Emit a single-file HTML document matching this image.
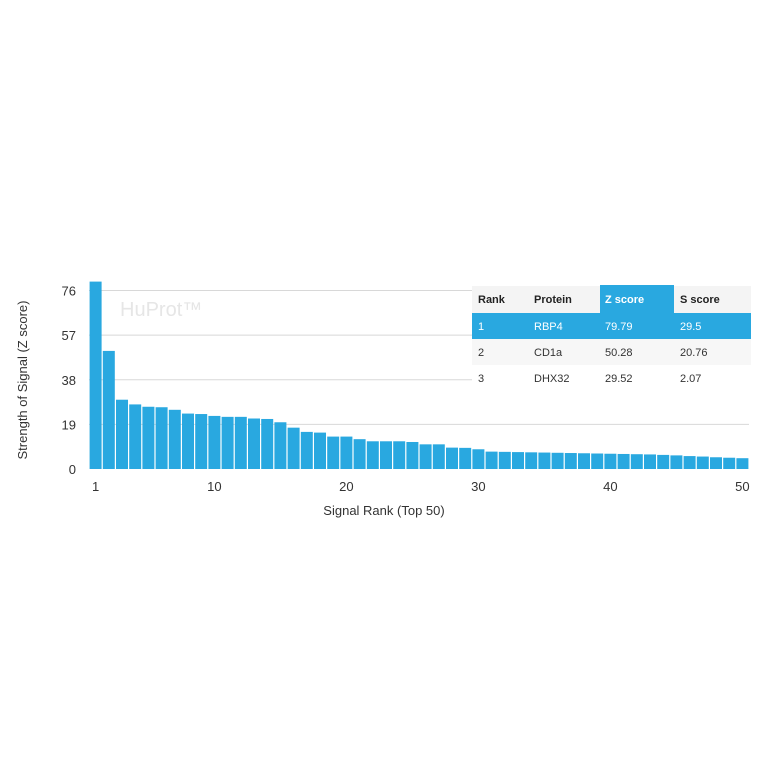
<!DOCTYPE html>
<html><head><meta charset="utf-8"><style>
body{margin:0;background:#fff;width:764px;height:764px;overflow:hidden;font-family:"Liberation Sans",Arial,sans-serif}
</style></head><body>
<svg width="764" height="764" xmlns="http://www.w3.org/2000/svg">
<g id="grid"></g>
<text x="120" y="316" font-size="20" fill="#e6e6e6">HuProt™</text>
<g id="bars"></g>
<g id="yt" font-size="13" fill="#333" text-anchor="end"></g>
<g id="xt" font-size="13" fill="#333" text-anchor="middle"></g>
<text transform="translate(27,380) rotate(-90)" text-anchor="middle" font-size="13" fill="#333">Strength of Signal (Z score)</text>
<text x="384" y="515" text-anchor="middle" font-size="13" fill="#333">Signal Rank (Top 50)</text>
<g font-size="11">
<rect x="472" y="286" width="279" height="27" fill="#f4f4f4"/>
<rect x="600" y="285" width="74" height="28" fill="#29a8e0"/>
<rect x="472" y="313" width="279" height="26" fill="#29a8e0"/>
<rect x="472" y="339" width="279" height="26" fill="#f7f7f7"/>
<rect x="472" y="365" width="279" height="26" fill="#fff"/>
<g font-weight="bold" fill="#222"><text x="478" y="303">Rank</text><text x="534" y="303">Protein</text><text x="605" y="303" fill="#fff">Z score</text><text x="680" y="303">S score</text></g>
<g fill="#fff"><text x="478" y="330">1</text><text x="534" y="330">RBP4</text><text x="605" y="330">79.79</text><text x="680" y="330">29.5</text></g>
<g fill="#333"><text x="478" y="356">2</text><text x="534" y="356">CD1a</text><text x="605" y="356">50.28</text><text x="680" y="356">20.76</text></g>
<g fill="#333"><text x="478" y="382">3</text><text x="534" y="382">DHX32</text><text x="605" y="382">29.52</text><text x="680" y="382">2.07</text></g>
</g>
</svg>
<script>
const values=[79.79,50.28,29.5,27.5,26.5,26.3,25.2,23.6,23.4,22.6,22.2,22.2,21.5,21.3,19.9,17.6,15.8,15.5,13.8,13.8,12.7,11.8,11.8,11.8,11.5,10.5,10.5,9.1,9.0,8.4,7.4,7.3,7.2,7.1,7.0,6.9,6.8,6.7,6.6,6.5,6.4,6.3,6.2,6.0,5.8,5.5,5.3,5.0,4.8,4.6];
const yTicks=[0,19,38,57,76];
const xTicks=[1,10,20,30,40,50];
const NS="http://www.w3.org/2000/svg";
const x0=89,bw=13.2,y0=469,ppu=(469-290.5)/76;
const ys=v=>y0-v*ppu, xs=i=>x0+(i-1)*bw;
const grid=document.getElementById('grid'),bars=document.getElementById('bars'),yt=document.getElementById('yt'),xt=document.getElementById('xt');
yTicks.forEach(t=>{
 if(t>0){const l=document.createElementNS(NS,'line');
 l.setAttribute('x1',x0);l.setAttribute('x2',749);l.setAttribute('y1',ys(t));l.setAttribute('y2',ys(t));l.setAttribute('stroke','#d8d8d8');
 
 
 grid.appendChild(l);}
 const tx=document.createElementNS(NS,'text');
 tx.setAttribute('x',76);tx.setAttribute('y',ys(t)+5);tx.textContent=t;
 
 
 yt.appendChild(tx);
});
values.forEach((v,i)=>{
 const r=document.createElementNS(NS,'rect');
 r.setAttribute('x',xs(i+1)+0.6);r.setAttribute('width',bw-1.2);r.setAttribute('y',ys(v));r.setAttribute('height',y0-ys(v));r.setAttribute('fill','#29a8e0');
 
 
 bars.appendChild(r);
});
xTicks.forEach(t=>{
 const tx=document.createElementNS(NS,'text');
 tx.setAttribute('x',xs(t)+bw/2);tx.setAttribute('y',491);tx.textContent=t;
 
 
 xt.appendChild(tx);
});
</script>
</body></html>
